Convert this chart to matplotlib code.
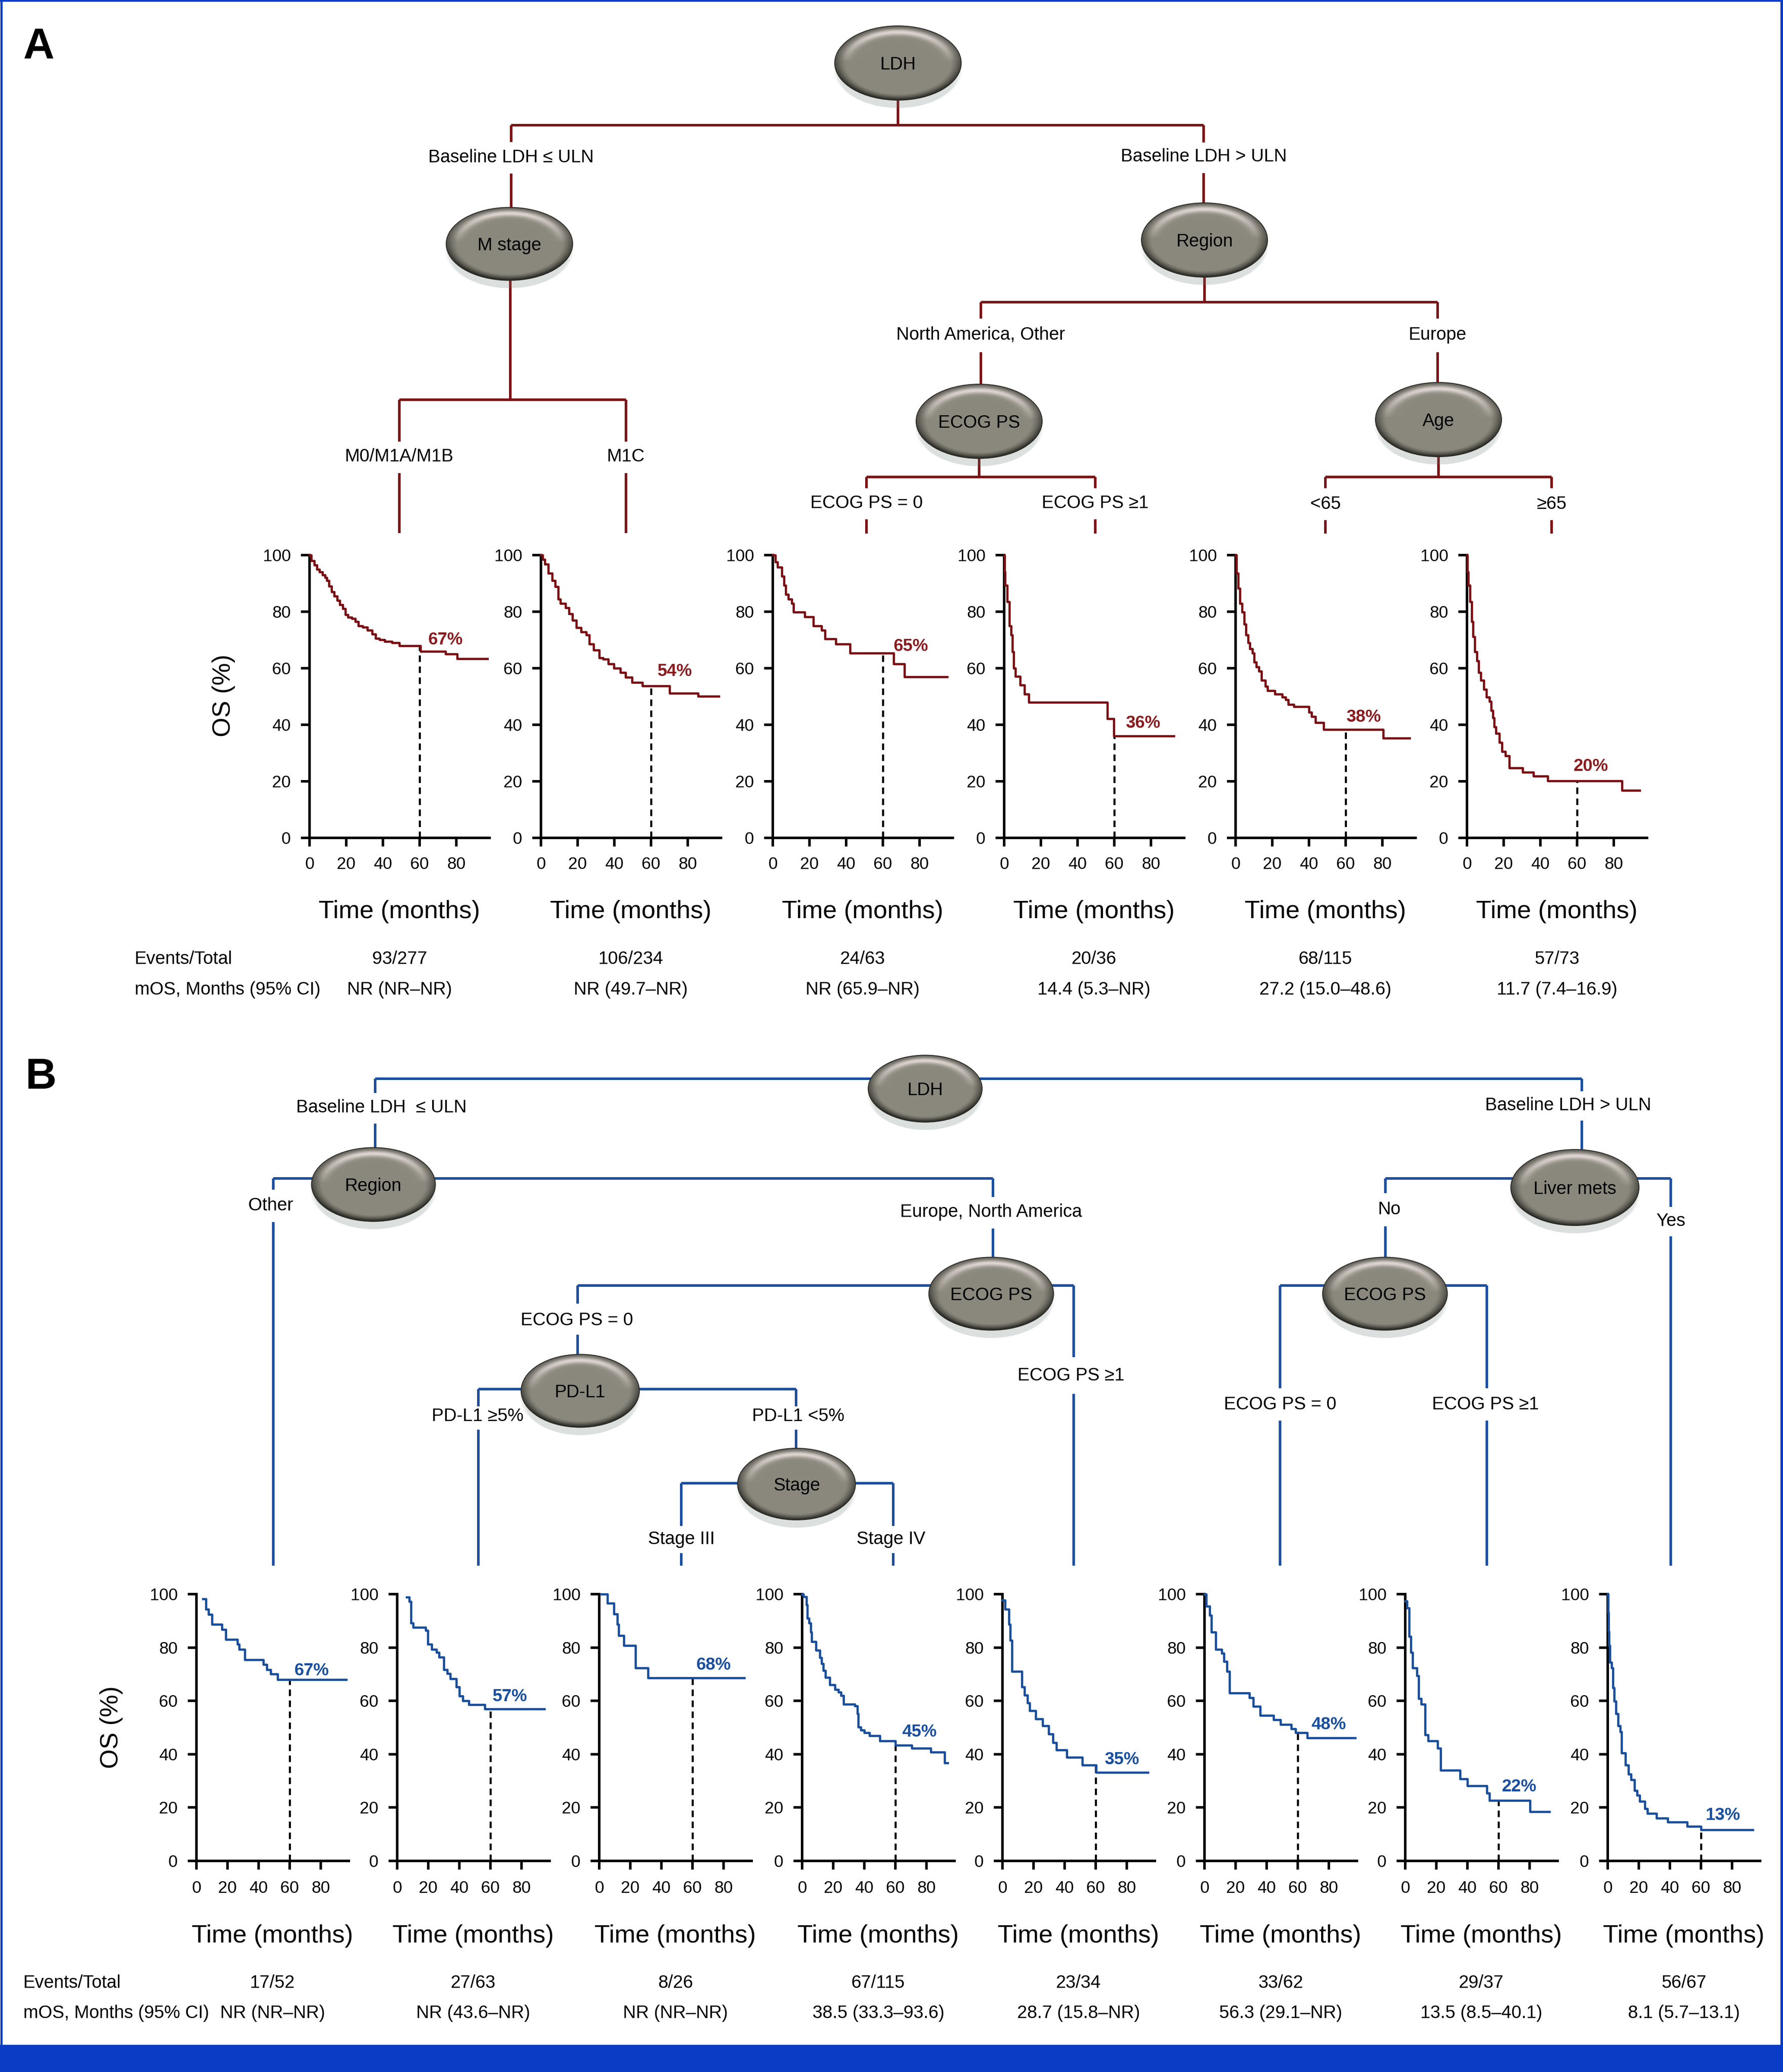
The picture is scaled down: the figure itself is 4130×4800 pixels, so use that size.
import numpy as np
import matplotlib.pyplot as plt
from matplotlib import font_manager
from matplotlib.patches import Ellipse, Rectangle

# ---------------- 数据 ----------------
# A 图：六个亚组（时间/月，OS/%）
a1_t = [0, 1, 2.5, 4, 5.5, 7, 8.5, 9.5, 10.5, 12, 13.5, 15, 16.5, 18, 19.5, 21, 23, 25, 26.5, 29, 31.5, 34, 36, 38, 41, 45, 49, 60.5, 74, 80.5, 97]
a1_s = [100, 98, 96.5, 95, 94, 93, 92, 91, 89, 87, 85.5, 84, 82.5, 81, 79, 78, 77.5, 76.5, 75, 74.5, 73.5, 72, 70.5, 70, 69.5, 69, 68, 66, 65, 63.3, 63.3]
a2_t = [0, 1, 2.2, 4, 6, 7.8, 9.3, 10.6, 13.4, 15.3, 17.1, 19.4, 21.8, 24.6, 26.4, 28.7, 31.7, 33.9, 36.7, 39.8, 43.2, 46, 49.7, 55.3, 70.2, 85.7, 97]
a2_s = [100, 98.5, 96.8, 93.6, 91, 88.8, 84.5, 82.9, 81.3, 79.2, 77, 74.4, 72.8, 71.7, 68.5, 66.4, 63.7, 63.2, 61.6, 60, 58.4, 56.8, 54.9, 53.8, 51.1, 50.1, 50.1]
a3_t = [0, 1.3, 2.7, 4.9, 6.2, 7.1, 8.5, 10.4, 11.3, 17.3, 22.2, 26.7, 28.5, 34.4, 42.2, 65.8, 71.8, 95]
a3_s = [100, 97.5, 95.7, 92.5, 89.3, 86.1, 84.5, 82.9, 79.9, 78.1, 74.9, 73.5, 70.4, 68.5, 65.3, 61.6, 57, 57]
a4_t = [0, 0.2, 0.5, 1.6, 2.9, 3.8, 4.4, 5.1, 6.2, 8.7, 11.1, 13.5, 56.2, 59.8, 92.4]
a4_s = [100, 94, 89.3, 83.5, 74.9, 71.7, 65.8, 60, 57.1, 54.1, 50.9, 47.9, 42.2, 36, 36]
a5_t = [0, 0.5, 1.5, 2.4, 3.6, 4.7, 5.6, 6.9, 7.8, 9.1, 10.2, 11.4, 12.7, 14.2, 16.3, 17.4, 21.4, 25.4, 27.2, 28.7, 31.8, 39.9, 41.4, 43.6, 47.9, 80.4, 94.9]
a5_s = [100, 93.6, 88.3, 82.9, 79.9, 75.5, 71.7, 69, 66.9, 65.3, 62.1, 60.5, 58.9, 55.7, 53.6, 52, 50.9, 49.8, 48.8, 47.2, 46.4, 44.5, 42.9, 40.8, 38.3, 35.2, 35.2]
a6_t = [0, 0.3, 0.7, 1.6, 2.5, 3.3, 4.2, 5.3, 6.4, 7.6, 9.1, 10.7, 12.2, 13.1, 14, 14.9, 15.8, 17.6, 19.1, 20.9, 23.1, 30.4, 36.2, 44, 84.5, 94]
a6_s = [100, 94, 89.3, 83.5, 76.5, 71.2, 65.8, 62.6, 58.4, 55.7, 52.5, 49.8, 48.2, 45, 42.4, 39.2, 37, 33.8, 30.6, 29, 24.8, 23.2, 21.8, 20.2, 16.8, 16.8]

a_times = [a1_t, a2_t, a3_t, a4_t, a5_t, a6_t]
a_surv = [a1_s, a2_s, a3_s, a4_s, a5_s, a6_s]
a_pct = ['67%', '54%', '65%', '36%', '38%', '20%']
a_events = ['93/277', '106/234', '24/63', '20/36', '68/115', '57/73']
a_mos = ['NR (NR–NR)', 'NR (49.7–NR)', 'NR (65.9–NR)', '14.4 (5.3–NR)', '27.2 (15.0–48.6)', '11.7 (7.4–16.9)']

# B 图：八个亚组
b1_t = [4.3, 6.2, 7.9, 9.9, 16.5, 19, 26.4, 27.5, 31.2, 43.1, 45.4, 47.7, 52.2, 96.5]
b1_s = [98.3, 94.3, 92.4, 88.7, 86.7, 83, 81.3, 79.3, 75.4, 73.6, 71.7, 70, 67.9, 67.9]
b2_t = [6.2, 7.7, 8.8, 10.2, 18.2, 19.6, 22.1, 25.2, 27, 30.1, 32.1, 34.1, 38, 40, 42.3, 46, 56.5, 94.8]
b2_s = [98.9, 97.2, 89.2, 87.5, 86.4, 81.3, 79.3, 78.1, 76.3, 71.7, 70.2, 68.3, 65.2, 61.8, 60, 58.6, 56.9, 56.9]
b3_t = [1.1, 5.4, 9.4, 11.6, 12.5, 15.9, 23.3, 31.5, 93.3]
b3_s = [100, 96.6, 92.6, 88.7, 84.5, 80.7, 72.4, 68.6, 68.6]
b4_t = [0, 0.7, 2.7, 3.3, 4.4, 5.5, 6.2, 8.9, 11.5, 12.6, 13.7, 15.1, 17.7, 21.1, 23.3, 25, 26.6, 33.9, 35.5, 36.1, 37.7, 39.9, 43.2, 49.9, 59.9, 70.5, 82.7, 91.6, 93.6]
b4_s = [100, 99, 96, 90.9, 89.2, 85.8, 82.2, 79, 76.2, 73.9, 71.3, 68.8, 66, 64.3, 63.2, 62, 58.8, 58.1, 55.2, 50.1, 49, 48.1, 46.9, 45, 43.3, 42.2, 40.7, 36.7, 36.7]
b5_t = [0, 1.6, 4.2, 4.9, 6, 12.6, 14.2, 16, 17.5, 21.5, 25.9, 29.7, 32.6, 34.8, 41.5, 51.4, 60.3, 93.6]
b5_s = [97.7, 94.3, 88.7, 82.7, 71.1, 65.2, 62.2, 59.2, 56.3, 53.3, 50.7, 47.5, 44.4, 41.6, 38.8, 35.9, 33.1, 33.1]
b6_t = [0, 1.1, 3.3, 4.4, 7.1, 11.1, 12.6, 14.4, 16.2, 28.8, 31.5, 35.8, 44.5, 48.8, 55.9, 58.6, 66.2, 97]
b6_s = [100, 95.5, 92.1, 85.8, 79.3, 77.9, 74.7, 71.1, 62.9, 61.1, 58, 54.6, 52.9, 51.2, 49.5, 48.1, 46.1, 46.1]
b7_t = [0, 1.1, 2.6, 3.7, 4.8, 7.6, 8.7, 10.2, 12.8, 14.6, 20.7, 22.8, 35.2, 40, 52.6, 54.3, 80.4, 92.8]
b7_s = [97.4, 94.9, 84.1, 78.1, 72.4, 69.4, 60.9, 58.8, 47.3, 45, 42.2, 33.9, 30.8, 28.2, 25.4, 22.6, 18.4, 18.4]
b8_t = [0, 0.3, 0.6, 0.9, 1.5, 2.6, 3.3, 4.2, 5.2, 6.6, 8.1, 9, 11.4, 13.3, 15.1, 17.3, 18.8, 20.5, 23.8, 25.6, 31.5, 38.7, 51.1, 59.9, 93.3]
b8_s = [100, 93, 86, 80.7, 74.5, 72.4, 64.9, 59.8, 55.2, 50.7, 48.4, 40.5, 35.9, 32.5, 30.5, 26.3, 24.6, 22.3, 19.5, 17.8, 16.1, 14.6, 13, 11.6, 11.6]

b_times = [b1_t, b2_t, b3_t, b4_t, b5_t, b6_t, b7_t, b8_t]
b_surv = [b1_s, b2_s, b3_s, b4_s, b5_s, b6_s, b7_s, b8_s]
b_pct = ['67%', '57%', '68%', '45%', '35%', '48%', '22%', '13%']
b_events = ['17/52', '27/63', '8/26', '67/115', '23/34', '33/62', '29/37', '56/67']
b_mos = ['NR (NR–NR)', 'NR (43.6–NR)', 'NR (NR–NR)', '38.5 (33.3–93.6)', '28.7 (15.8–NR)', '56.3 (29.1–NR)', '13.5 (8.5–40.1)', '8.1 (5.7–13.1)']

x_ticks = [0, 20, 40, 60, 80]
y_ticks = [0, 20, 40, 60, 80, 100]

# ---------------- 版式（像素） ----------------
W, H = 4130, 4800
RED_LINE, RED_CURVE, RED_TXT = '#7b1416', '#7a1015', '#8a1c20'
BLUE_LINE, BLUE_CURVE, BLUE_TXT = '#1d4f9f', '#1b4f9c', '#1a4f9e'
FRAME = '#0b3cc6'

a_x0 = [717, 1253, 1790, 2326, 2862, 3398]
a_pct_xy = [(74, 70), (73, 58.9), (75.3, 67.8), (75.6, 40.6), (69.7, 42.7), (67.5, 25.3)]
b_x0 = [455, 920, 1388, 1858, 2322, 2790, 3255, 3724]
b_pct_xy = [(74, 71.3), (72.6, 61.7), (73.5, 73.4), (75.4, 48.4), (76.9, 38), (79.8, 51.2), (73.3, 27.8), (74.1, 17.2)]

installed = {f.name for f in font_manager.fontManager.ttflist}
plt.rcParams['font.family'] = ['Liberation Sans', 'DejaVu Sans']
if 'Liberation Sans Narrow' in installed:
    NARROW, NARROW_SIZE = ['Liberation Sans Narrow', 'Liberation Sans', 'DejaVu Sans'], 48
else:
    NARROW, NARROW_SIZE = ['Liberation Sans', 'DejaVu Sans'], 42

fig = plt.figure(figsize=(W / 100, H / 100), dpi=100, facecolor='white')
ov = fig.add_axes([0, 0, 1, 1])
ov.set_xlim(0, W)
ov.set_ylim(H, 0)
ov.set_autoscale_on(False)
ov.axis('off')

# 节点渐变图
n = 240
u = np.linspace(-1, 1, n)
U, V = np.meshgrid(u, u)
R = np.sqrt(U ** 2 + V ** 2)
base = np.array([0.545, 0.537, 0.494])
light = np.array([0.95, 0.91, 0.90])
dark = np.array([0.14, 0.14, 0.12])
hl = np.exp(-((R - 0.84) / 0.09) ** 2) * np.clip(-V - 0.05, 0, 1) ** 0.8
dk = np.clip((R - 0.83) / 0.17, 0, 1) ** 1.3 * (0.45 + 0.55 * np.clip(V + 0.3, 0, 1))
node_img = base * (1 - hl[..., None]) + light * hl[..., None]
node_img = node_img * (1 - dk[..., None]) + dark * dk[..., None]
node_img = np.clip(node_img, 0, 1)


def node(cx, cy, w, h, label):
    # 柔和阴影
    for k in range(6):
        ov.add_patch(Ellipse((cx, cy + 14 + k * 2), w + 6 - k * 5, h + 8 - k * 4,
                             facecolor='#71807d', alpha=0.045, lw=0, zorder=3))
    e = Ellipse((cx, cy), w, h, facecolor='none', edgecolor='#2e2d29', lw=1.5, zorder=5)
    ov.add_patch(e)
    im = ov.imshow(node_img, extent=(cx - w / 2, cx + w / 2, cy + h / 2, cy - h / 2),
                   aspect='auto', interpolation='bilinear', zorder=4)
    im.set_clip_path(e)
    ov.text(cx, cy + 4, label, ha='center', va='center', fontsize=30, zorder=6)


def seg(pts, color):
    xs, ys = zip(*pts)
    ov.plot(xs, ys, color=color, lw=4.3, solid_capstyle='butt', zorder=2)


def branch(x, y_top, y_gap0, label, y_lab, y_gap1, y_bot, color, lx=None):
    seg([(x, y_top), (x, y_gap0)], color)
    seg([(x, y_gap1), (x, y_bot)], color)
    ov.text(x if lx is None else lx, y_lab, label, ha='center', va='center', fontsize=30)


def km(x0, y100, y0, ppm, t, s, pct, pct_xy, color, pct_color, xpad):
    t = np.asarray(t)
    s = np.asarray(s)
    ax = fig.add_axes([x0 / W, 1 - y0 / H, 98 * ppm / W, (y0 - y100) / H])
    ax.set_facecolor('none')
    ax.set_xlim(0, 98)
    ax.set_ylim(0, 100)
    ax.step(t, s, where='post', color=color, lw=3.8, clip_on=False, zorder=3)
    s60 = s[np.searchsorted(t, 60, side='right') - 1]
    ax.plot([60, 60], [0, s60], color='black', lw=3.4, dashes=(3.2, 2.2), zorder=2)
    ax.text(pct_xy[0], pct_xy[1], pct, color=pct_color, fontsize=29, fontweight='bold',
            ha='center', va='center')
    for side in ['top', 'right']:
        ax.spines[side].set_visible(False)
    for side in ['left', 'bottom']:
        ax.spines[side].set_linewidth(4.2)
    ax.set_xticks(x_ticks)
    ax.set_yticks(y_ticks)
    ax.tick_params(direction='out', length=14.4, width=4.2, labelsize=28)
    ax.tick_params(axis='y', pad=17)
    ax.tick_params(axis='x', pad=xpad)
    return ax


# ---------------- A ----------------
ov.text(54, 137, 'A', fontsize=72, fontweight='bold', ha='left', va='baseline')
seg([(2080, 232), (2080, 290)], RED_LINE)
seg([(1184, 290), (2788, 290)], RED_LINE)
branch(1184, 290, 329, 'Baseline LDH ≤ ULN', 365, 402, 481, RED_LINE)
branch(2788, 290, 330, 'Baseline LDH > ULN', 363, 401, 470, RED_LINE)
seg([(1182, 650), (1182, 926)], RED_LINE)
seg([(925, 926), (1450, 926)], RED_LINE)
branch(925, 926, 1023, 'M0/M1A/M1B', 1058, 1096, 1235, RED_LINE)
branch(1450, 926, 1023, 'M1C', 1058, 1096, 1235, RED_LINE)
seg([(2790, 642), (2790, 700)], RED_LINE)
seg([(2272, 700), (3330, 700)], RED_LINE)
branch(2272, 700, 738, 'North America, Other', 776, 816, 890, RED_LINE)
branch(3330, 700, 738, 'Europe', 776, 816, 886, RED_LINE)
seg([(2268, 1062), (2268, 1105)], RED_LINE)
seg([(2007, 1105), (2537, 1105)], RED_LINE)
branch(2007, 1105, 1131, 'ECOG PS = 0', 1166, 1203, 1236, RED_LINE)
branch(2537, 1105, 1131, 'ECOG PS ≥1', 1166, 1203, 1236, RED_LINE)
seg([(3332, 1058), (3332, 1105)], RED_LINE)
seg([(3070, 1105), (3594, 1105)], RED_LINE)
branch(3070, 1105, 1131, '<65', 1168, 1205, 1236, RED_LINE)
branch(3594, 1105, 1131, '≥65', 1168, 1205, 1236, RED_LINE)
node(2080, 146, 293, 172, 'LDH')
node(1180, 565, 293, 169, 'M stage')
node(2790, 556, 292, 172, 'Region')
node(2268, 976, 292, 172, 'ECOG PS')
node(3332, 972, 292, 172, 'Age')

A_PPM, A_Y100, A_Y0 = 4.25, 1286, 1941
for i in range(6):
    km(a_x0[i], A_Y100, A_Y0, A_PPM, a_times[i], a_surv[i], a_pct[i], a_pct_xy[i],
       RED_CURVE, RED_TXT, 17)
    cx = a_x0[i] + 49 * A_PPM
    ov.text(cx, 2112, 'Time (months)', family=NARROW, fontsize=NARROW_SIZE, ha='center', va='center')
    ov.text(cx, 2222, a_events[i], fontsize=30, ha='center', va='center')
    ov.text(cx, 2293, a_mos[i], fontsize=30, ha='center', va='center')
ov.text(518, 1611, 'OS (%)', family=NARROW, fontsize=NARROW_SIZE, rotation=90, ha='center', va='center')
ov.text(312, 2222, 'Events/Total', fontsize=30, ha='left', va='center')
ov.text(312, 2293, 'mOS, Months (95% CI)', fontsize=30, ha='left', va='center')

# ---------------- B ----------------
ov.text(58, 2522, 'B', fontsize=72, fontweight='bold', ha='left', va='baseline')
seg([(869, 2499), (3664, 2499)], BLUE_LINE)
branch(869, 2499, 2532, 'Baseline LDH  ≤ ULN', 2566, 2603, 2658, BLUE_LINE, lx=884)
branch(3664, 2499, 2528, 'Baseline LDH > ULN', 2561, 2596, 2663, BLUE_LINE, lx=3632)
seg([(633, 2730), (2300, 2730)], BLUE_LINE)
branch(633, 2730, 2756, 'Other', 2793, 2831, 3627, BLUE_LINE, lx=627)
branch(2300, 2730, 2773, 'Europe, North America', 2808, 2846, 2912, BLUE_LINE, lx=2296)
seg([(1338, 2978), (2487, 2978)], BLUE_LINE)
branch(2487, 2978, 3144, 'ECOG PS ≥1', 3187, 3229, 3627, BLUE_LINE, lx=2481)
branch(1338, 2978, 3020, 'ECOG PS = 0', 3059, 3092, 3138, BLUE_LINE, lx=1336)
seg([(1108, 3218), (1844, 3218)], BLUE_LINE)
branch(1108, 3218, 3258, 'PD-L1 ≥5%', 3281, 3312, 3627, BLUE_LINE, lx=1106)
branch(1844, 3218, 3258, 'PD-L1 <5%', 3281, 3312, 3355, BLUE_LINE, lx=1849)
seg([(1578, 3436), (2069, 3436)], BLUE_LINE)
branch(1578, 3436, 3535, 'Stage III', 3566, 3598, 3627, BLUE_LINE)
branch(2069, 3436, 3535, 'Stage IV', 3566, 3598, 3627, BLUE_LINE, lx=2064)
seg([(3209, 2730), (3870, 2730)], BLUE_LINE)
branch(3870, 2730, 2796, 'Yes', 2829, 2864, 3627, BLUE_LINE)
branch(3209, 2730, 2764, 'No', 2802, 2841, 2912, BLUE_LINE, lx=3218)
seg([(2965, 2978), (3444, 2978)], BLUE_LINE)
branch(2965, 2978, 3216, 'ECOG PS = 0', 3254, 3291, 3627, BLUE_LINE)
branch(3444, 2978, 3216, 'ECOG PS ≥1', 3254, 3291, 3627, BLUE_LINE, lx=3441)
node(2143, 2522, 264, 155, 'LDH')
node(865, 2744, 287, 171, 'Region')
node(2296, 2997, 289, 169, 'ECOG PS')
node(1344, 3222, 274, 169, 'PD-L1')
node(1845, 3438, 273, 166, 'Stage')
node(3648, 2751, 297, 176, 'Liver mets')
node(3208, 2997, 289, 169, 'ECOG PS')

B_PPM, B_Y100, B_Y0 = 3.6, 3693, 4311
for i in range(8):
    km(b_x0[i], B_Y100, B_Y0, B_PPM, b_times[i], b_surv[i], b_pct[i], b_pct_xy[i],
       BLUE_CURVE, BLUE_TXT, 19)
    cx = b_x0[i] + 49 * B_PPM
    ov.text(cx, 4485, 'Time (months)', family=NARROW, fontsize=NARROW_SIZE, ha='center', va='center')
    ov.text(cx, 4594, b_events[i], fontsize=30, ha='center', va='center')
    ov.text(cx, 4664, b_mos[i], fontsize=30, ha='center', va='center')
ov.text(258, 4001, 'OS (%)', family=NARROW, fontsize=NARROW_SIZE, rotation=90, ha='center', va='center')
ov.text(54, 4594, 'Events/Total', fontsize=30, ha='left', va='center')
ov.text(54, 4664, 'mOS, Months (95% CI)', fontsize=30, ha='left', va='center')

# 外框
ov.add_patch(Rectangle((0, 4737), W, H - 4737, facecolor=FRAME, lw=0, zorder=1))
ov.plot([2.5, 2.5], [0, 4737], color=FRAME, lw=3.6, zorder=1)
ov.plot([0, W], [2, 2], color=FRAME, lw=3, zorder=1)
ov.plot([W - 3, W - 3], [0, 4737], color=FRAME, lw=4.3, zorder=1)

fig.savefig('out.png', dpi=100)
